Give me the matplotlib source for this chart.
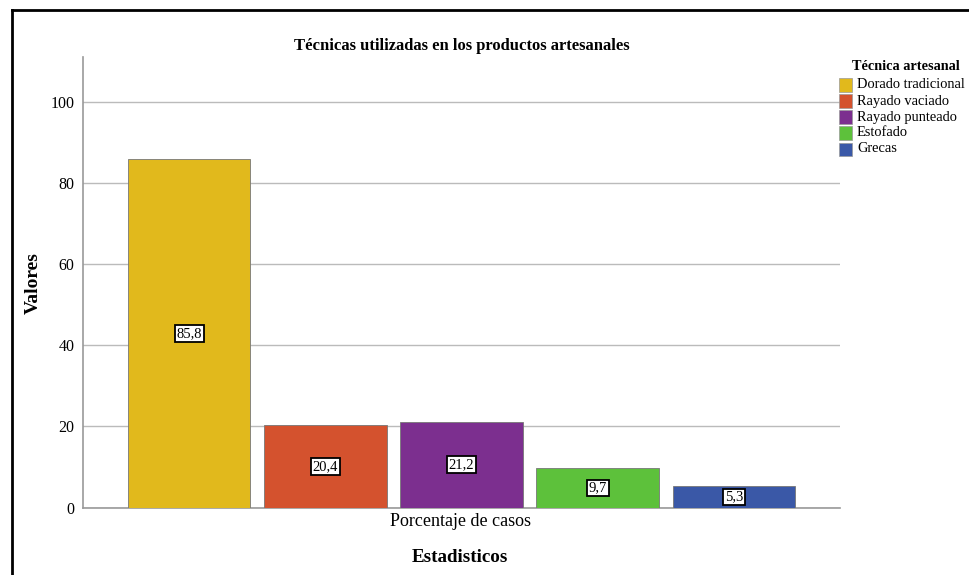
import matplotlib
matplotlib.use("Agg")
import matplotlib.pyplot as plt
from matplotlib.patches import Rectangle
import numpy as np

categories = ["Dorado tradicional", "Rayado vaciado", "Rayado punteado", "Estofado", "Grecas"]
values = [85.8, 20.4, 21.2, 9.7, 5.3]
value_labels = ["85,8", "20,4", "21,2", "9,7", "5,3"]
colors = ["#E1B91C", "#D4522E", "#7C2F8F", "#5DC13B", "#3A58A7"]
yticks = [0, 20, 40, 60, 80, 100]

serif = ["Liberation Serif", "DejaVu Serif"]
plt.rcParams["font.family"] = serif

fig = plt.figure(figsize=(9.69, 5.75), dpi=100)
ax = fig.add_axes([83/969, 1-507.7/575, (840-83)/969, (507.7-57)/575])

x = np.arange(len(values))
bars = ax.bar(x, values, width=0.9, color=colors, edgecolor="#777777", linewidth=0.6, zorder=3)
for xi, v, lab in zip(x, values, value_labels):
    ax.text(xi, v/2, lab, ha="center", va="center", fontsize=10.5, zorder=4,
            bbox=dict(boxstyle="square,pad=0.12", facecolor="white", edgecolor="black", linewidth=1.3))

ax.set_xlim(-0.78, 4.78)
ax.set_ylim(0, 111)
ax.set_yticks(yticks)
ax.set_yticklabels([str(t) for t in yticks], fontsize=11.5)
ax.tick_params(axis="y", length=0, pad=6)
ax.set_xticks([])
ax.grid(axis="y", color="#BBBBBB", linewidth=1.0, zorder=0)
for s in ["top", "right"]:
    ax.spines[s].set_visible(False)
ax.spines["left"].set_color("#999999")
ax.spines["bottom"].set_color("#999999")
ax.spines["left"].set_linewidth(1.2)
ax.spines["bottom"].set_linewidth(1.2)

fig.text(460/969, 1-521/575, "Porcentaje de casos", ha="center", va="center", fontsize=13)
fig.text(462/969, 1-46/575, "Técnicas utilizadas en los productos artesanales",
         ha="center", va="center", fontsize=12, fontweight="bold")
fig.text(460/969, 1-557/575, "Estadisticos", ha="center", va="center", fontsize=13.7, fontweight="bold")
fig.text(33/969, 1-283/575, "Valores", ha="center", va="center", fontsize=14,
         fontweight="bold", rotation=90)

# legend
fig.text(852/969, 1-67/575, "Técnica artesanal", ha="left", va="center", fontsize=10.3, fontweight="bold")
for i, (c, cat) in enumerate(zip(colors, categories)):
    yc = 85 + i*16
    fig.patches.append(Rectangle((839/969, 1-(yc+6.5)/575), 13/969, 13/575,
                                 transform=fig.transFigure, facecolor=c, edgecolor="#999999",
                                 linewidth=0.5))
    fig.text(857/969, 1-yc/575, cat, ha="left", va="center", fontsize=10.4)

# outer frame
fig.add_artist(plt.Line2D([11.5/969, 1.0], [1-9.5/575, 1-9.5/575], transform=fig.transFigure,
                          color="black", linewidth=2))
fig.add_artist(plt.Line2D([11.5/969, 11.5/969], [0, 1-9.5/575], transform=fig.transFigure,
                          color="black", linewidth=2))

fig.savefig("out.png", dpi=100, facecolor="white")
